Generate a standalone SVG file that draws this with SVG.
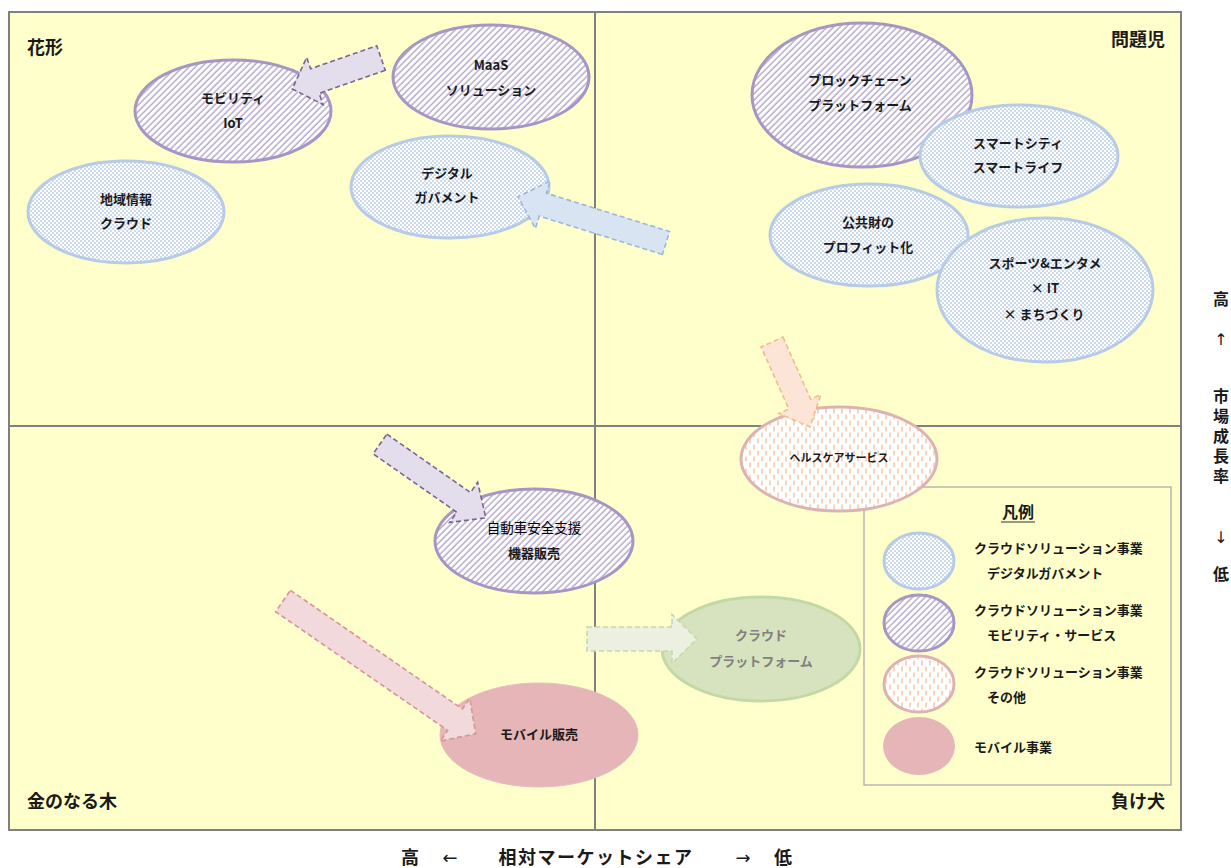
<svg xmlns="http://www.w3.org/2000/svg" width="1231" height="868" viewBox="0 0 1231 868">
<defs>
<pattern id="dots" width="4" height="4" patternUnits="userSpaceOnUse">
<rect width="4" height="4" fill="#FFFFFF"/>
<circle cx="1" cy="1" r="0.75" fill="#7FA3DA"/>
<circle cx="3" cy="3" r="0.75" fill="#7FA3DA"/>
</pattern>
<pattern id="hatch" width="4.5" height="4.5" patternUnits="userSpaceOnUse" patternTransform="rotate(45)">
<rect width="4.5" height="4.5" fill="#FFFFFF"/>
<line x1="1" y1="0" x2="1" y2="4.5" stroke="#A596C2" stroke-width="1.2"/>
</pattern>
<pattern id="vdash" width="8" height="12" patternUnits="userSpaceOnUse">
<rect width="8" height="12" fill="#FFFFFF"/>
<line x1="2" y1="0.5" x2="2" y2="5.5" stroke="#F8C4A2" stroke-width="1.4"/>
<line x1="6" y1="6.5" x2="6" y2="11.5" stroke="#F8C4A2" stroke-width="1.4"/>
</pattern>
<style>
.q{fill:#FFFFCC;stroke:#808080;stroke-width:2}
.ql{stroke:#808080;stroke-width:2}
.blue{fill:url(#dots);stroke:#B7CBE6;stroke-width:3}
.purp{fill:url(#hatch);stroke:#A796C3;stroke-width:3}
.oth{fill:url(#vdash);stroke:#DDB2B2;stroke-width:3}
.mob{fill:#E5B5B7;stroke:#E8BCBE;stroke-width:1}
.grn{fill:#D7E3BE;stroke:#C3D9A3;stroke-width:3}
.t{font-family:"Noto Sans CJK JP","Noto Sans",sans-serif;font-size:13px;font-weight:700;fill:#1A1A1A;text-anchor:middle}
.tn{font-family:"Noto Sans CJK JP","Noto Sans",sans-serif;font-size:13px;font-weight:400;fill:#000;text-anchor:middle}
.lg{font-family:"Noto Sans CJK JP","Noto Sans",sans-serif;font-size:13px;font-weight:700;fill:#1A1A1A}
.big{font-family:"Noto Sans CJK JP","Noto Sans",sans-serif;font-size:18px;font-weight:700;fill:#1A1A1A}
.ax{font-family:"Noto Sans CJK JP","Noto Sans",sans-serif;font-size:16px;font-weight:700;fill:#1A1A1A;text-anchor:middle}
.axb{font-family:"Noto Sans CJK JP","Noto Sans",sans-serif;font-size:18px;font-weight:700;fill:#1A1A1A;text-anchor:middle}
.arr{font-family:"DejaVu Sans","Liberation Sans",sans-serif;font-size:16px;font-weight:400;fill:#1A1A1A;text-anchor:middle}
.ap{fill:#E3DDEC;stroke:#7C6396;stroke-width:1.6;stroke-dasharray:5 3}
.ab{fill:#D9E4F3;stroke:#9CB6DC;stroke-width:1.6;stroke-dasharray:5 3}
.ao{fill:#FCE5D6;stroke:#F7B98B;stroke-width:1.6;stroke-dasharray:5 3}
.ak{fill:#F1D9DC;stroke:#D9939A;stroke-width:1.6;stroke-dasharray:5 3}
.ag{fill:#EBF0E1;stroke:#C5D9A9;stroke-width:1.6;stroke-dasharray:5 3}
</style>
</defs>
<rect width="1231" height="868" fill="#FFFFFF"/>
<g id="quadrants">
<rect class="q" x="9" y="12" width="1172" height="818"/>
<line class="ql" x1="595" y1="12" x2="595" y2="830"/>
<line class="ql" x1="9" y1="426" x2="1181" y2="426"/>
<text class="big" x="27" y="54">花形</text>
<text class="big" x="1165" y="46" text-anchor="end">問題児</text>
<text class="big" x="27" y="808">金のなる木</text>
<text class="big" x="1165" y="808" text-anchor="end">負け犬</text>
</g>
<g id="legend">
<rect x="864" y="487" width="307" height="298" fill="#FFFFCC" stroke="#A6A6A6" stroke-width="1.2"/>
<text class="lg" x="1018" y="518" text-anchor="middle" style="font-size:16px">凡例</text>
<line x1="1001" y1="522" x2="1035" y2="522" stroke="#333" stroke-width="1.2"/>
<ellipse class="blue" cx="919" cy="561" rx="35" ry="28"/>
<text class="lg" x="974" y="553">クラウドソリューション事業</text>
<text class="lg" x="987" y="578">デジタルガバメント</text>
<ellipse class="purp" cx="919" cy="623" rx="35" ry="28"/>
<text class="lg" x="974" y="615">クラウドソリューション事業</text>
<text class="lg" x="987" y="640">モビリティ・サービス</text>
<ellipse class="oth" cx="919" cy="684" rx="35" ry="28"/>
<text class="lg" x="974" y="677">クラウドソリューション事業</text>
<text class="lg" x="987" y="702">その他</text>
<ellipse cx="919" cy="746" rx="36" ry="29" fill="#E5B5B7"/>
<text class="lg" x="974" y="752">モバイル事業</text>
</g>
<g id="node-mobility-iot">
<ellipse class="purp" cx="233" cy="111" rx="98" ry="51"/>
<text class="t" x="233" y="103">モビリティ</text>
<text class="t" x="233" y="128">IoT</text>
</g>
<g id="node-maas">
<ellipse class="purp" cx="491" cy="77" rx="98" ry="52"/>
<text class="t" x="491" y="70">MaaS</text>
<text class="t" x="491" y="95">ソリューション</text>
</g>
<g id="node-chiiki">
<ellipse class="blue" cx="126" cy="212" rx="98" ry="51"/>
<text class="t" x="126" y="204">地域情報</text>
<text class="t" x="126" y="228">クラウド</text>
</g>
<g id="node-digital">
<ellipse class="blue" cx="450" cy="187" rx="99" ry="51"/>
<text class="t" x="447" y="178">デジタル</text>
<text class="t" x="447" y="202">ガバメント</text>
</g>
<g id="node-blockchain">
<ellipse class="purp" cx="862" cy="95" rx="110" ry="72"/>
<text class="t" x="860" y="85">ブロックチェーン</text>
<text class="t" x="860" y="110">プラットフォーム</text>
</g>
<g id="node-smartcity">
<ellipse class="blue" cx="1019" cy="156" rx="99" ry="51"/>
<text class="t" x="1018" y="148">スマートシティ</text>
<text class="t" x="1018" y="172">スマートライフ</text>
</g>
<g id="node-public">
<ellipse class="blue" cx="869" cy="235" rx="99" ry="51"/>
<text class="t" x="868" y="227">公共財の</text>
<text class="t" x="868" y="252">プロフィット化</text>
</g>
<g id="node-sports">
<ellipse class="blue" cx="1045" cy="290" rx="108" ry="72"/>
<text class="t" x="1045" y="268">スポーツ&amp;エンタメ</text>
<text class="t" x="1045" y="293">× IT</text>
<text class="t" x="1044" y="319">× まちづくり</text>
</g>
<g id="node-healthcare">
<ellipse class="oth" cx="839" cy="459" rx="98" ry="52"/>
<text class="t" x="839" y="462" style="font-size:11px">ヘルスケアサービス</text>
</g>
<g id="node-car-safety">
<ellipse class="purp" cx="534" cy="541" rx="99" ry="52"/>
<text class="tn" x="534" y="533" style="font-size:13.5px">自動車安全支援</text>
<text class="t" x="534" y="558">機器販売</text>
</g>
<g id="node-mobile">
<ellipse class="mob" cx="539" cy="735" rx="99" ry="52"/>
<text class="t" x="539" y="739">モバイル販売</text>
</g>
<g id="node-cloud-platform">
<ellipse class="grn" cx="761" cy="649" rx="99" ry="52"/>
<text class="t" x="761" y="640" style="fill:#808080">クラウド</text>
<text class="t" x="761" y="666" style="fill:#808080">プラットフォーム</text>
</g>
<g id="connectors">
<polygon class="ap" transform="translate(381,58) rotate(160.8)" points="0,-13 70,-13 70,-25 94,0 70,25 70,13 0,13"/>
<polygon class="ab" transform="translate(666,243) rotate(197.3)" points="0,-12 129,-12 129,-25 155,0 129,25 129,12 0,12"/>
<polygon class="ao" transform="translate(772,342) rotate(65.9)" points="0,-12 68,-12 68,-23 93,0 68,23 68,12 0,12"/>
<polygon class="ap" transform="translate(380,444) rotate(34.9)" points="0,-12 102,-12 102,-24.5 129,0 102,24.5 102,12 0,12"/>
<polygon class="ak" transform="translate(283,601) rotate(34.6)" points="0,-13 209,-13 209,-26 234,0 209,26 209,13 0,13"/>
<polygon class="ag" transform="translate(587,639)" points="0,-12 85,-12 85,-24.5 110,0 85,24.5 85,12 0,12"/>
</g>
<g id="axis-y">
<text class="ax" x="1221" y="305">高</text>
<text class="arr" x="1221" y="345">↑</text>
<text class="ax" x="1221" y="388" style="writing-mode:vertical-rl;text-anchor:start;letter-spacing:4px">市場成長率</text>
<text class="arr" x="1221" y="543">↓</text>
<text class="ax" x="1221" y="580">低</text>
</g>
<g id="axis-x">
<text class="axb" x="410" y="864">高</text>
<text class="arr" x="450" y="864" style="font-size:18px">←</text>
<text class="axb" x="596" y="864" style="letter-spacing:1.5px">相対マーケットシェア</text>
<text class="arr" x="743" y="864" style="font-size:18px">→</text>
<text class="axb" x="783" y="864">低</text>
</g>
</svg>
